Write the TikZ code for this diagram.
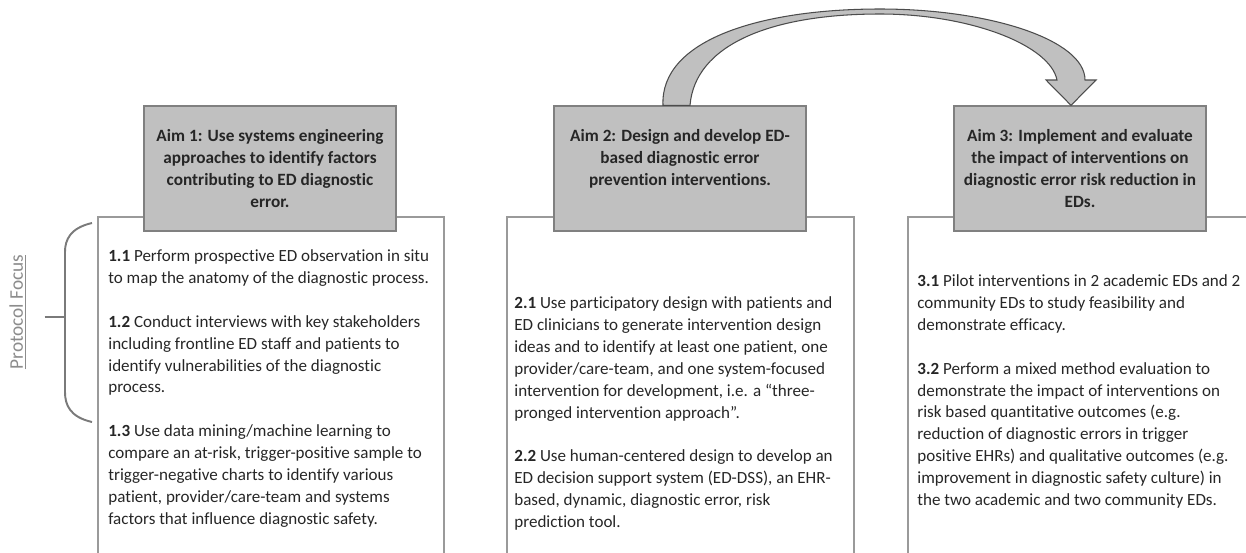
\documentclass[tikz,border=0pt]{standalone}
\usepackage{fontspec}
\setmainfont{Carlito}[Ligatures=NoCommon]
\usetikzlibrary{positioning,calc}

\definecolor{aimfill}{HTML}{C0C0C0}
\definecolor{aimline}{HTML}{808080}
\definecolor{frameline}{HTML}{9A9A9A}
\definecolor{bracegray}{HTML}{7A7A7A}

\tikzset{
  aim/.style={draw=aimline, fill=aimfill, line width=0.8pt, minimum width=5.04cm,
    minimum height=2.5cm, align=center, text=black!85,
    font=\bfseries\fontsize{9.8}{12.5}\selectfont},
  frame/.style={draw=frameline, line width=1.1pt, anchor=north west, minimum height=8cm},
  body/.style={anchor=north west, align=left, inner sep=0pt, text=black!85,
    font=\fontsize{9.7}{12.5}\selectfont},
}

\begin{document}
\begin{tikzpicture}[x=0.02cm, y=-0.02cm]
  \clip (0,0) rectangle (1246,552);

  % outer frames, open at the bottom
  \node[frame, minimum width=6.92cm] (frame1) at (97,216) {};
  \node[frame, minimum width=6.94cm] (frame2) at (506,216) {};
  \node[frame, minimum width=8cm] (frame3) at (907,216) {};

  % aim boxes
  \node[aim] (aim1) at (270,168.5) {Aim 1: Use systems engineering\\ approaches to identify factors\\ contributing to ED diagnostic\\ error.};
  \node[aim] (aim2) at (680,168.5) {Aim 2: Design and develop ED-\\ based diagnostic error\\ prevention interventions.\\ \mbox{}};
  \node[aim] (aim3) at (1080,168.5) {Aim 3: Implement and evaluate\\ the impact of interventions on\\ diagnostic error risk reduction in\\ EDs.};

  % sub-aims
  \node[body] (sub1) at ($(frame1.north west)+(11,33)$) {%
    \textbf{1.1} Perform prospective ED observation in situ\\
    to map the anatomy of the diagnostic process.\\[12.5pt]
    \textbf{1.2} Conduct interviews with key stakeholders\\
    including frontline ED staff and patients to\\
    identify vulnerabilities of the diagnostic\\
    process.\\[12.5pt]
    \textbf{1.3} Use data mining/machine learning to\\
    compare an at-risk, trigger-positive sample to\\
    trigger-negative charts to identify various\\
    patient, provider/care-team and systems\\
    factors that influence diagnostic safety.};
  \node[body] (sub2) at ($(frame2.north west)+(8,80)$) {%
    \textbf{2.1} Use participatory design with patients and\\
    ED clinicians to generate intervention design\\
    ideas and to identify at least one patient, one\\
    provider/care-team, and one system-focused\\
    intervention for development, i.e. a “three-\\
    pronged intervention approach”.\\[12.5pt]
    \textbf{2.2} Use human-centered design to develop an\\
    ED decision support system (ED-DSS), an EHR-\\
    based, dynamic, diagnostic error, risk\\
    prediction tool.};
  \node[body] (sub3) at ($(frame3.north west)+(10,58)$) {%
    \textbf{3.1} Pilot interventions in 2 academic EDs and 2\\
    community EDs to study feasibility and\\
    demonstrate efficacy.\\[12.5pt]
    \textbf{3.2} Perform a mixed method evaluation to\\
    demonstrate the impact of interventions on\\
    risk based quantitative outcomes (e.g.\\
    reduction of diagnostic errors in trigger\\
    positive EHRs) and qualitative outcomes (e.g.\\
    improvement in diagnostic safety culture) in\\
    the two academic and two community EDs.};

  % protocol focus bracket
  \node[rotate=90, text=black!45, font=\fontsize{11}{13}\selectfont] (focus) at (18,312) {\underline{Protocol Focus}};
  \coordinate (bracemid) at (65,317);
  \draw[bracegray, line width=1.1pt] (92,223) .. controls (70,228) and (65,240) .. (65,252)
    -- (65,392) .. controls (65,405) and (70,417) .. (92,422);
  \draw[bracegray, line width=1.1pt] ($(focus.south)+(12,5)$) -- (bracemid);

  % curved block arrow from aim 2 over to aim 3
  \draw[fill=aimfill, draw=black!70, line width=0.6pt]
    ($(aim2.north)+(-17,0)$) .. controls (660,40) and (760,9) .. (880,9)
      .. controls (990,9) and (1085,40) .. (1085,80)
    -- (1096,80) -- ($(aim3.north)+(-9,0)$) -- (1046,80) -- (1057,80)
      .. controls (1050,45) and (970,14) .. (880,14)
      .. controls (770,14) and (695,45) .. ($(aim2.north)+(10,0)$) -- cycle;
\end{tikzpicture}
\end{document}
